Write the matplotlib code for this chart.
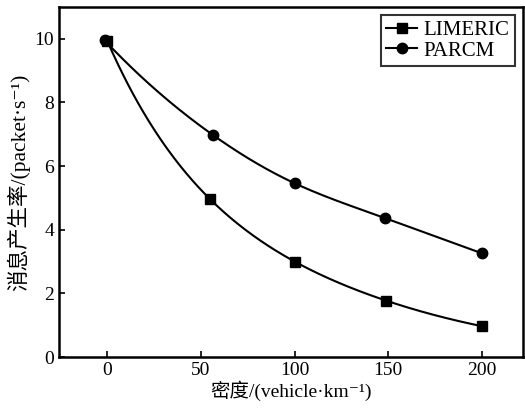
import matplotlib
matplotlib.use("Agg")
import matplotlib.pyplot as plt
import numpy as np

# data
lim_x = [0, 55, 100, 149, 200]
lim_y = [9.92, 4.95, 3.0, 1.77, 0.97]
par_x = [-1.5, 56.5, 100, 148.5, 200]
par_y = [9.95, 6.97, 5.46, 4.36, 3.26]
xticks = [0, 50, 100, 150, 200]
yticks = [0, 2, 4, 6, 8, 10]

plt.rcParams['font.family'] = ['Liberation Serif', 'Noto Sans CJK SC', 'DejaVu Sans']


def smooth(x, y, n=300):
	# cubic spline (parabolic run-out) through log(y), only for drawing the curve
	x = np.asarray(x, float)
	y = np.log(np.asarray(y, float))
	k = len(x)
	h = np.diff(x)
	A = np.zeros((k, k))
	b = np.zeros(k)
	A[0, 0], A[0, 1] = 1, -1
	A[-1, -1], A[-1, -2] = 1, -1
	for i in range(1, k - 1):
		A[i, i - 1] = h[i - 1]
		A[i, i] = 2 * (h[i - 1] + h[i])
		A[i, i + 1] = h[i]
		b[i] = 6 * ((y[i + 1] - y[i]) / h[i] - (y[i] - y[i - 1]) / h[i - 1])
	M = np.linalg.solve(A, b)
	xs = np.linspace(x[0], x[-1], n)
	idx = np.clip(np.searchsorted(x, xs) - 1, 0, k - 2)
	x0, x1 = x[idx], x[idx + 1]
	hh = x1 - x0
	t0, t1 = x1 - xs, xs - x0
	ys = (M[idx] * t0**3 + M[idx + 1] * t1**3) / (6 * hh) \
		+ (y[idx] / hh - M[idx] * hh / 6) * t0 + (y[idx + 1] / hh - M[idx + 1] * hh / 6) * t1
	return xs, np.exp(ys)


fig = plt.figure(figsize=(5.25, 4.08), dpi=100)
ax = fig.add_axes([0.112, 0.125, 0.884, 0.858])

sx, sy = smooth(lim_x, lim_y)
ax.plot(sx, sy, color='k', lw=1.5)
px, py = smooth(par_x, par_y)
ax.plot(px, py, color='k', lw=1.5)
ax.plot(lim_x, lim_y, ls='none', marker='s', ms=7, color='k')
ax.plot(par_x, par_y, ls='none', marker='o', ms=7.5, color='k')

# legend handles
ax.plot([], [], color='k', lw=1.5, marker='s', ms=7, label='LIMERIC')
ax.plot([], [], color='k', lw=1.5, marker='o', ms=7.5, label='PARCM')
leg = ax.legend(loc='upper right', fontsize=15, frameon=True, fancybox=False,
	edgecolor='k', handlelength=1.5, handletextpad=0.3, borderpad=0.25,
	labelspacing=0.05, borderaxespad=0.4)
leg.get_frame().set_linewidth(1.5)

ax.set_xlim(-26, 222)
ax.set_ylim(0, 11)
ax.set_xticks(xticks)
ax.set_yticks(yticks)
ax.tick_params(direction='in', length=4, width=1.2, labelsize=14, top=False, right=False)
for s in ax.spines.values():
	s.set_linewidth(1.8)

ax.set_xlabel('密度/(vehicle·km⁻¹)', fontsize=14, labelpad=1)
ax.set_ylabel('消息产生率/(packet·s⁻¹)', fontsize=15.5, labelpad=3)

fig.savefig('out.png', dpi=100)
